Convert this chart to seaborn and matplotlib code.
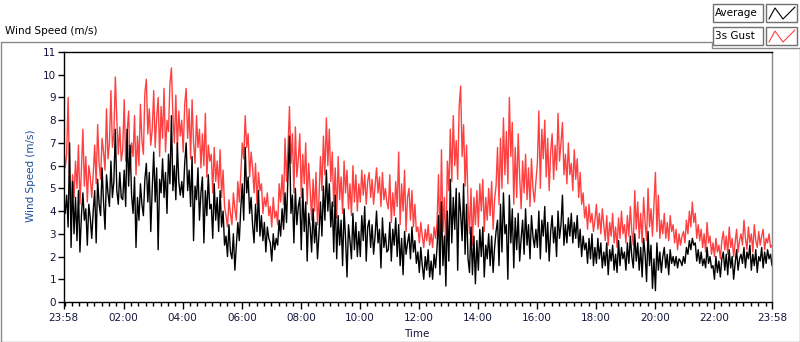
import numpy as np
import pandas as pd
import matplotlib
matplotlib.use("Agg")
import matplotlib.pyplot as plt
import seaborn as sns
from matplotlib.patches import Rectangle
from matplotlib.lines import Line2D

# ---- data (3-minute samples, 23:58 -> 23:58) ----
gust = [
 6.8,5.9,6.5,9.0,5.2,4.1,5.6, 4.6,6.2,5.0,6.9,4.3,5.8,7.6, 5.1,6.4,4.4,6.0,5.5,4.6,
 5.6,6.9,5.2,7.8,6.1,5.4,7.2, 6.6,5.8,8.5,6.3,7.0,9.3,6.8, 7.4,9.9,8.0,6.5,7.7,6.2,
 6.7,8.9,6.2,7.5,8.4,5.8,7.0, 6.4,8.2,5.6,7.3,6.0,8.7,7.1, 6.5,9.2,9.8,7.4,8.5,6.9,
 7.6,9.3,6.8,8.1,9.0,6.4,8.6, 7.2,9.4,6.6,8.0,7.5,9.6,10.3, 8.2,7.0,9.1,6.7,8.4,7.3,
 8.0,6.6,8.7,9.4,7.2,8.5,6.3, 8.9,7.0,6.1,8.2,6.8,7.6,5.9, 7.4,6.0,8.3,5.5,6.9,6.2,
 6.5,4.8,6.8,5.3,6.2,5.0,6.7, 4.6,5.8,4.2,3.8,3.3,4.5,3.9, 3.4,4.8,4.1,3.6,5.3,4.4,
 5.6,7.0,6.3,8.2,6.8,7.4,5.5, 6.6,5.9,4.8,6.1,4.3,5.7,4.9, 5.2,3.9,4.6,4.2,4.8,3.8,
 4.2,3.3,4.6,3.7,4.0,3.4,5.2, 4.4,5.6,4.3,7.2,5.3,6.8,8.6, 6.1,7.4,4.8,7.7,5.5,6.3,
 7.4,4.6,6.5,5.2,7.0,4.3,6.1, 5.0,3.6,5.4,4.0,5.7,3.4,4.6, 6.4,4.9,7.3,5.6,8.1,6.0,
 7.6,5.3,6.6,4.2,5.9,3.7,6.4, 4.5,5.5,3.9,6.2,4.8,5.8,4.1, 5.2,3.8,6.0,4.4,5.6,4.0,
 5.2,4.4,5.8,4.7,5.6,4.3,5.3, 5.7,4.6,5.4,4.3,5.1,5.9,4.8, 5.5,4.2,5.7,4.5,5.0,4.4,
 4.1,5.6,3.5,4.8,3.8,5.3,4.2, 6.6,3.4,5.2,4.0,5.8,3.1,4.6, 5.0,3.6,4.9,3.3,4.3,3.1,
 3.3,2.6,3.5,2.9,2.4,3.2,2.7, 3.4,2.5,3.0,2.4,3.3,2.8,3.5, 5.6,2.3,6.7,3.1,4.6,2.1,
 6.2,4.9,7.6,5.3,8.2,6.0,7.1, 5.4,8.6,9.5,6.4,7.8,5.1,6.9, 4.3,3.0,5.0,2.5,4.6,3.4,
 4.9,3.3,5.2,4.0,5.4,3.1,4.6, 3.6,5.0,3.8,5.3,3.2,4.5,5.1, 6.8,4.3,7.2,5.0,8.1,5.6,
 7.5,5.2,9.0,6.4,7.9,4.3,6.8, 4.6,7.4,5.5,4.1,6.2,4.8,6.5, 4.5,5.9,4.2,6.3,5.0,4.4,
 5.3,6.1,8.4,5.0,7.6,6.3,8.0, 5.5,7.2,4.9,6.6,7.4,5.4,6.9, 5.8,8.3,6.2,7.0,7.9,5.6,
 6.5,5.2,7.0,5.6,6.1,4.9,6.7, 5.4,6.3,4.6,5.7,4.3,4.8,3.7, 4.2,3.2,4.3,3.5,3.9,3.1,
 3.6,4.3,3.2,3.9,3.0,4.1,3.4, 2.7,3.8,2.5,3.5,2.9,3.9,2.6, 3.3,2.4,3.7,2.8,4.0,3.0,
 3.4,2.6,3.8,2.9,4.2,3.1,2.5, 4.9,3.2,4.4,2.8,3.9,2.6,4.6, 3.5,2.7,5.0,3.3,4.1,2.9,
 4.3,5.7,3.1,4.7,2.8,3.6,3.0, 3.9,2.8,3.5,2.7,3.8,3.1,3.4, 2.6,3.2,2.3,3.0,2.5,2.9,
 3.1,2.6,3.6,3.0,4.0,3.3,4.4, 3.5,3.9,2.8,3.4,2.7,3.2,2.4, 3.0,2.2,3.5,2.6,2.9,2.1,
 2.6,2.0,2.8,2.2,2.5,1.9,2.7, 3.1,2.3,2.9,2.1,3.3,2.4,2.8, 2.0,2.6,3.2,2.2,2.7,3.0,
 2.5,3.6,2.8,2.3,3.3,2.6,3.0, 2.2,3.4,2.7,2.4,3.1,2.5,2.9, 3.2,2.3,2.8,2.6,3.0,2.4,
 2.5,
]
average = [
 4.4,3.9,4.7,3.3,7.0,2.4,5.3, 3.0,4.6,2.7,4.9,2.2,3.8,4.8, 3.6,4.1,2.5,4.3,3.7,2.8,
 4.0,4.9,2.6,5.4,4.3,3.8,5.9, 4.4,3.2,5.6,4.8,4.2,6.2,4.6, 5.3,7.6,4.9,4.3,5.7,4.6,
 4.5,5.8,4.2,7.6,5.1,6.9,4.7, 3.9,5.5,2.4,4.6,3.6,5.2,4.3, 3.8,5.4,6.1,4.4,5.7,3.1,
 5.0,6.6,4.4,5.9,2.3,5.4,4.8, 6.3,4.6,5.7,3.9,6.5,5.2,8.2, 4.9,6.0,4.5,7.0,5.3,4.7,
 5.3,4.6,6.1,7.0,4.9,5.8,4.2, 6.4,2.7,5.1,4.5,5.9,3.6,4.8, 5.5,2.6,4.9,3.8,5.6,4.1,
 4.3,2.8,5.2,3.6,4.6,3.1,4.9, 3.3,4.0,2.5,2.9,2.0,3.4,2.2, 1.9,3.0,1.4,2.5,3.5,2.7,
 4.1,5.2,3.6,6.8,4.8,5.5,3.9, 4.6,3.4,2.6,4.3,3.1,4.9,2.9, 3.8,2.7,3.5,2.2,3.3,2.8,
 2.6,1.8,3.0,2.3,2.8,2.5,3.6, 2.9,4.1,3.2,4.8,3.5,5.6,7.3, 3.9,4.7,2.6,5.0,3.4,4.2,
 4.6,2.3,5.0,3.1,4.4,1.8,3.9, 3.3,2.2,4.1,2.6,3.5,1.9,3.0, 4.4,2.9,5.1,3.6,5.8,4.0,
 5.2,3.3,4.4,2.2,4.7,1.9,3.8, 2.5,3.6,1.6,4.1,2.8,1.1,3.4, 2.7,1.9,3.9,2.3,3.5,2.0,
 3.1,2.0,3.8,2.7,4.2,1.8,3.3, 3.6,2.4,3.4,2.1,2.9,4.0,2.6, 3.2,1.5,3.7,2.4,3.0,2.2,
 2.3,3.5,1.8,3.2,2.5,3.7,2.0, 3.4,1.6,2.8,1.2,3.1,2.1,2.6, 3.0,1.9,3.3,2.2,2.7,1.7,
 2.2,1.3,2.4,1.6,1.0,2.0,1.4, 2.3,1.1,1.8,1.0,2.1,1.5,2.4, 3.8,1.2,4.4,1.6,2.9,0.7,
 4.0,1.8,5.4,2.6,4.6,3.2,5.0, 1.4,4.8,3.9,2.7,5.2,2.1,4.3, 1.9,1.3,3.3,1.2,2.9,0.8,
 2.7,1.4,3.2,2.0,3.3,1.1,2.5, 1.9,3.0,1.6,2.9,1.3,2.4,3.1, 3.6,1.6,4.3,2.2,4.8,3.0,
 3.4,1.0,4.7,2.6,4.1,1.5,3.7, 2.3,3.9,1.8,2.8,3.6,2.1,4.1, 2.5,3.4,1.9,3.8,2.9,2.4,
 3.2,2.4,4.0,1.9,3.6,2.9,4.2, 2.2,3.5,1.8,3.1,3.8,2.6,3.3, 2.0,4.0,2.8,3.4,4.7,2.5,
 3.4,2.6,3.7,2.9,3.9,2.6,3.5, 2.8,3.8,2.4,3.2,2.0,2.9,2.3, 2.6,1.7,2.8,1.9,3.0,1.6,
 2.4,1.7,2.8,1.9,2.6,1.5,2.2, 1.6,2.6,1.2,2.3,1.8,2.5,1.4, 2.1,1.3,2.7,1.6,2.4,1.9,
 2.2,1.4,2.6,1.7,2.9,2.0,1.5, 3.0,1.8,2.6,1.4,2.4,1.1,2.8, 2.1,0.9,3.1,1.6,2.5,0.6,
 1.9,0.5,2.6,1.4,2.2,1.3,2.0, 2.4,1.5,2.1,1.2,2.3,1.7,2.0, 1.6,2.0,1.5,1.9,1.8,1.6,
 2.0,1.7,2.4,2.1,2.7,2.3,2.8, 2.5,2.6,1.8,2.3,1.7,2.2,1.6, 1.9,1.5,2.4,1.7,2.0,1.5,
 1.6,1.0,2.0,1.3,1.8,1.1,1.9, 2.2,1.4,2.1,1.2,2.3,1.5,2.0, 1.0,1.7,2.3,1.4,1.9,2.1,
 1.7,2.4,1.5,2.2,1.9,2.5,1.4, 2.1,1.6,2.3,1.3,2.0,1.8,2.4, 1.5,2.2,1.7,2.3,1.9,2.1,
 1.6,
]
minutes = list(range(0, 1441, 3))   # minutes after 23:58
tick_minutes = [0, 122, 242, 362, 482, 602, 722, 842, 962, 1082, 1202, 1322, 1440]
tick_labels = ["23:58", "02:00", "04:00", "06:00", "08:00", "10:00", "12:00",
               "14:00", "16:00", "18:00", "20:00", "22:00", "23:58"]
y_ticks = list(range(0, 12))

df = pd.DataFrame({"t": minutes, "gust": gust, "avg": average})

sns.set_style("white")
plt.rcParams["font.family"] = ["DejaVu Sans"]

W, H = 800, 342
fig = plt.figure(figsize=(W / 100, H / 100), dpi=100)
fig.patch.set_facecolor("white")

def fx(x):
    return x / W

def fy(y):
    return 1 - y / H

ax = fig.add_axes([fx(63.7), fy(302), fx(772) - fx(63.7), fy(52) - fy(302)])
ax.set_facecolor("white")

sns.lineplot(data=df, x="t", y="gust", ax=ax, color="#FF4040", linewidth=1.0,
             estimator=None, sort=False, legend=False)
sns.lineplot(data=df, x="t", y="avg", ax=ax, color="black", linewidth=1.0,
             estimator=None, sort=False, legend=False)

ax.set_xlim(0, 1440)
ax.set_ylim(0, 11)
ax.set_xlabel("")
ax.set_ylabel("")

for s in ["top", "left", "bottom"]:
    ax.spines[s].set_color("black")
    ax.spines[s].set_linewidth(1.0)
ax.spines["right"].set_color("#888888")
ax.spines["right"].set_linewidth(1.0)

tick_color = "#14143c"
ax.set_yticks(y_ticks)
ax.set_yticklabels([str(v) for v in y_ticks])
ax.set_xticks(tick_minutes)
ax.set_xticklabels(tick_labels)
ax.set_xticks(list(range(2, 1440, 15)), minor=True)
ax.tick_params(axis="y", which="major", direction="out", length=4, width=1,
               color="black", labelsize=7.5, labelcolor=tick_color, pad=1.5, left=True)
ax.tick_params(axis="x", which="major", direction="out", length=5, width=1,
               color="black", labelsize=7.5, labelcolor=tick_color, pad=3, bottom=True)
ax.tick_params(axis="x", which="minor", direction="out", length=3, width=1,
               color="black", bottom=True)

fig.text(fx(31), fy(176), "Wind Speed (m/s)", rotation=90, ha="center", va="center",
         fontsize=7.5, color="#1f4e9a")
fig.text(fx(417), fy(334), "Time", ha="center", va="center", fontsize=7.5, color="#14143c")
fig.text(fx(5), fy(31), "Wind Speed (m/s)", ha="left", va="center", fontsize=7.5, color="black")

gray = "#8a8a8a"
def fline(xs, ys, color=gray, lw=1.0):
    fig.add_artist(Line2D([fx(x) for x in xs], [fy(y) for y in ys], color=color,
                          linewidth=lw, transform=fig.transFigure))

fline([0.5, 712], [42, 42])
fline([712, 712], [42, 48])
fline([712, 799.5], [48, 48])
fline([0.5, 0.5], [42, 341.5])
fline([799.5, 799.5], [48, 341.5])
fline([0.5, 799.5], [341.5, 341.5])

def fbox(x0, y0, x1, y1):
    fig.add_artist(Rectangle((fx(x0), fy(y1)), fx(x1) - fx(x0), fy(y0) - fy(y1),
                             transform=fig.transFigure, facecolor="white",
                             edgecolor="#707070", linewidth=1.0))

legend_names = ["Average", "3s Gust"]
legend_colors = ["black", "#FF4040"]
for i, (name, col) in enumerate(zip(legend_names, legend_colors)):
    y0 = 4 + 23 * i
    y1 = y0 + 18
    fbox(713, y0, 763, y1)
    fbox(766, y0, 797, y1)
    fig.text(fx(715), fy((y0 + y1) / 2), name, ha="left", va="center",
             fontsize=7.5, color="black")
    fline([769, 775, 783, 795], [y1 - 3, y0 + 4, y1 - 3, y0 + 3], color=col, lw=0.8)

fig.savefig("out.png", dpi=100, facecolor="white")
